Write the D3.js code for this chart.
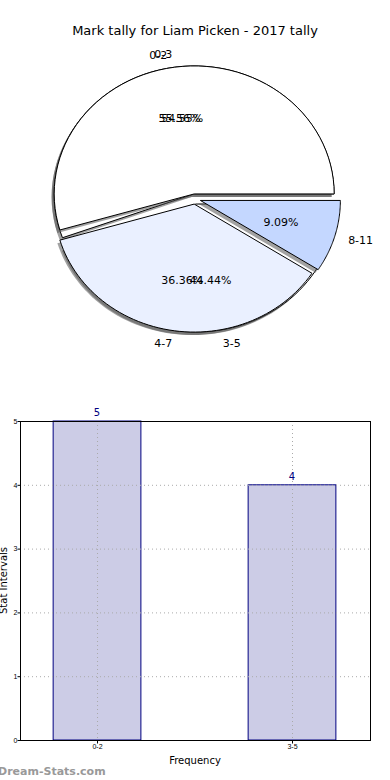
<!DOCTYPE html>
<html>
<head>
<meta charset="utf-8">
<script src="https://cdn.jsdelivr.net/npm/d3@7"></script>
<style>
body { margin: 0; background: #fff; }
svg { display: block; font-family: "DejaVu Sans", sans-serif; }
</style>
</head>
<body>
<svg id="chart" width="390" height="780"></svg>
<script>
// pie data: two tallies drawn on top of each other
var pieA_labels = ["0-2", "3-5"];
var pieA_values = [5, 4];
var pieA_colors = ["#ffffff", "#ffffff"];
var pieB_labels = ["0-3", "4-7", "8-11"];
var pieB_values = [6, 4, 1];
var pieB_colors = ["#ffffff", "#eaf0ff", "#c4d7ff"];

// bar data
var bar_labels = ["0-2", "3-5"];
var bar_values = [5, 4];
var y_ticks = [0, 1, 2, 3, 4, 5];

var svg = d3.select("#chart");

svg.append("text")
    .attr("x", 195).attr("y", 35)
    .attr("text-anchor", "middle")
    .style("font-size", "13px")
    .text("Mark tally for Liam Picken - 2017 tally");

// ---- pie ----
var cx = 195, cy = 199, rx = 140, ry = 128, explode = 0.04;
var pieShapes = svg.append("g");
var pieTexts = svg.append("g");

function slicePath(a0, a1, ox, oy) {
    // angles in degrees, counterclockwise from east (matplotlib style)
    var pts = d3.range(0, 61).map(function(i) {
        var a = (a0 + (a1 - a0) * i / 60) * Math.PI / 180;
        return [ox + rx * Math.cos(a), oy - ry * Math.sin(a)];
    });
    return "M" + ox + "," + oy + "L" + pts.map(function(p) { return p.join(","); }).join("L") + "Z";
}

function drawPie(labels, values, colors) {
    var total = d3.sum(values);
    var start = 0;
    var slices = values.map(function(v, i) {
        var a0 = start, a1 = start + 360 * v / total;
        start = a1;
        var mid = (a0 + a1) / 2 * Math.PI / 180;
        return {
            label: labels[i], pct: (100 * v / total).toFixed(2) + "%",
            a0: a0, a1: a1, mid: mid, color: colors[i],
            ox: cx + explode * rx * Math.cos(mid),
            oy: cy - explode * ry * Math.sin(mid)
        };
    });
    var g = pieShapes.append("g");
    g.selectAll(".shadow").data(slices).enter().append("path")
        .attr("d", function(d) { return slicePath(d.a0, d.a1, d.ox - 2.5, d.oy + 3); })
        .attr("fill", "#555").attr("opacity", 0.55);
    g.selectAll(".slice").data(slices).enter().append("path")
        .attr("d", function(d) { return slicePath(d.a0, d.a1, d.ox, d.oy); })
        .attr("fill", function(d) { return d.color; })
        .attr("stroke", "#000").attr("stroke-width", 1);
    var t = pieTexts.append("g");
    t.selectAll(".lab").data(slices).enter().append("text")
        .attr("x", function(d) { return d.ox + 1.1 * rx * Math.cos(d.mid); })
        .attr("y", function(d) { return d.oy - 1.1 * ry * Math.sin(d.mid); })
        .attr("dy", "0.35em")
        .attr("text-anchor", function(d) { return Math.cos(d.mid) < 0 ? "end" : "start"; })
        .style("font-size", "11px")
        .text(function(d) { return d.label; });
    t.selectAll(".pct").data(slices).enter().append("text")
        .attr("x", function(d) { return d.ox + 0.6 * rx * Math.cos(d.mid); })
        .attr("y", function(d) { return d.oy - 0.6 * ry * Math.sin(d.mid); })
        .attr("dy", "0.35em")
        .attr("text-anchor", "middle")
        .style("font-size", "11px")
        .text(function(d) { return d.pct; });
}

drawPie(pieA_labels, pieA_values, pieA_colors);
drawPie(pieB_labels, pieB_values, pieB_colors);

// ---- bar chart ----
var pLeft = 20, pRight = 370, pTop = 421, pBottom = 740;
var xs = d3.scaleLinear().domain([-0.395, 1.4]).range([pLeft, pRight]);
var ys = d3.scaleLinear().domain([0, 5]).range([pBottom, pTop]);
var bw = 0.45;

var bg = svg.append("g");

bg.selectAll(".bar").data(bar_values).enter().append("rect")
    .attr("x", function(d, i) { return xs(i - bw / 2); })
    .attr("y", function(d) { return ys(d); })
    .attr("width", xs(bw) - xs(0))
    .attr("height", function(d) { return ys(0) - ys(d); })
    .attr("fill", "#ccccE6").attr("stroke", "#000080").attr("stroke-width", 1);

// grid
bg.selectAll(".hgrid").data(y_ticks).enter().append("line")
    .attr("x1", pLeft).attr("x2", pRight)
    .attr("y1", function(d) { return ys(d) + 0.5; }).attr("y2", function(d) { return ys(d) + 0.5; })
    .attr("stroke", "#aaa").attr("stroke-dasharray", "1,3");
bg.selectAll(".vgrid").data(bar_labels).enter().append("line")
    .attr("x1", function(d, i) { return xs(i) + 0.5; }).attr("x2", function(d, i) { return xs(i) + 0.5; })
    .attr("y1", pTop).attr("y2", pBottom)
    .attr("stroke", "#aaa").attr("stroke-dasharray", "1,3");

bg.append("rect")
    .attr("x", pLeft + 0.5).attr("y", pTop + 0.5)
    .attr("width", pRight - pLeft).attr("height", pBottom - pTop)
    .attr("fill", "none").attr("stroke", "#000");

var yAxis = d3.axisLeft(ys).tickValues(y_ticks).tickSize(3).tickFormat(d3.format("d"));
var ya = bg.append("g").attr("transform", "translate(" + (pLeft + 0.5) + ",0)").call(yAxis);
ya.select(".domain").remove();
ya.selectAll("text").style("font-size", "7px").attr("x", -3);

var xAxis = d3.axisBottom(xs).tickValues([0, 1]).tickSize(3)
    .tickFormat(function(d) { return bar_labels[d]; });
var xa = bg.append("g").attr("transform", "translate(0," + (pBottom + 0.5) + ")").call(xAxis);
xa.select(".domain").remove();
xa.selectAll("text").style("font-size", "7px").attr("y", 4);

bg.selectAll(".val").data(bar_values).enter().append("text")
    .attr("x", function(d, i) { return xs(i); })
    .attr("y", function(d) { return ys(d) - 5; })
    .attr("text-anchor", "middle")
    .attr("fill", "#000080")
    .style("font-size", "10px")
    .text(function(d) { return d; });

svg.append("text")
    .attr("transform", "translate(7," + ((pTop + pBottom) / 2) + ") rotate(-90)")
    .attr("text-anchor", "middle")
    .style("font-size", "10px")
    .text("Stat Intervals");

svg.append("text")
    .attr("x", 195).attr("y", 764)
    .attr("text-anchor", "middle")
    .style("font-size", "10px")
    .text("Frequency");

svg.append("text")
    .attr("x", -2).attr("y", 775)
    .attr("fill", "#999")
    .style("font-size", "11px").style("font-weight", "bold")
    .text("Dream-Stats.com");
</script>
</body>
</html>
